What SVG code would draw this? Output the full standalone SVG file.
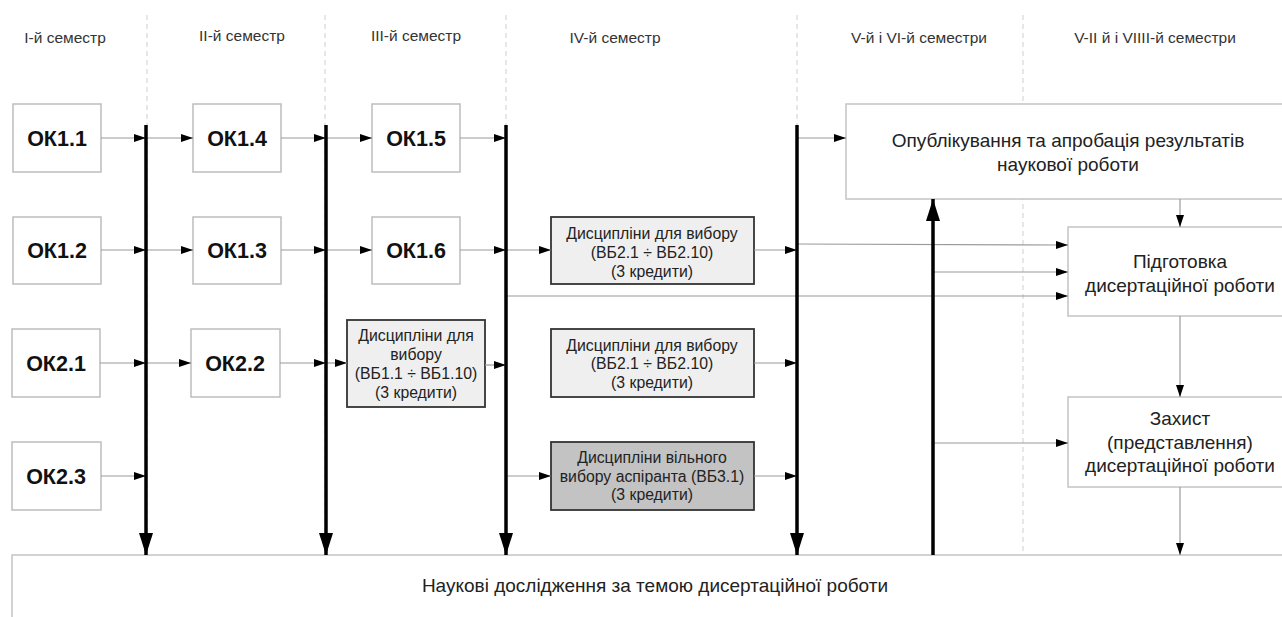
<svg xmlns="http://www.w3.org/2000/svg" width="1282" height="617" viewBox="0 0 1282 617">
  <style>
    .sem { font-family: "Liberation Sans", Arial, sans-serif; font-size: 15.5px; fill: #333; text-anchor: middle; }
    .ok rect { fill: #fff; stroke: #bdbdbd; stroke-width: 1.5; }
    .ok text { font-family: "Liberation Sans", Arial, sans-serif; font-size: 21.5px; font-weight: bold; fill: #111; text-anchor: middle; }
    .choice rect { fill: #efefef; stroke: #333; stroke-width: 1.8; }
    .free rect { fill: #c3c3c3; stroke: #333; stroke-width: 1.8; }
    .choice text, .free text { font-family: "Liberation Sans", Arial, sans-serif; font-size: 15.8px; fill: #222; text-anchor: middle; }
    .big rect { fill: #fff; stroke: #c4c4c4; stroke-width: 1.5; }
    .big text { font-family: "Liberation Sans", Arial, sans-serif; font-size: 19px; fill: #222; text-anchor: middle; }
    .sep { stroke: #cfcfcf; stroke-width: 1; stroke-dasharray: 5 4; fill: none; }
    .thin { stroke: #9a9a9a; stroke-width: 1.2; fill: none; marker-end: url(#arr); }
    .thick { stroke: #000; stroke-width: 3.5; fill: none; marker-end: url(#bigarr); }
  </style>
  <defs>
    <marker id="arr" markerUnits="userSpaceOnUse" markerWidth="12" markerHeight="8" refX="12" refY="4" orient="auto">
      <path d="M0,0 L12,4 L0,8 z" fill="#000"/>
    </marker>
    <marker id="bigarr" markerUnits="userSpaceOnUse" markerWidth="22" markerHeight="14" refX="22" refY="7" orient="auto">
      <path d="M0,0 L22,7 L0,14 z" fill="#000"/>
    </marker>
  </defs>

  <rect width="1282" height="617" fill="#fff"/>

  <!-- semester column separators -->
  <g id="separators">
    <line class="sep" x1="147" y1="15" x2="147" y2="555"/>
    <line class="sep" x1="325" y1="15" x2="325" y2="555"/>
    <line class="sep" x1="506" y1="15" x2="506" y2="555"/>
    <line class="sep" x1="797" y1="15" x2="797" y2="555"/>
    <line class="sep" x1="1023" y1="15" x2="1023" y2="555"/>
  </g>

  <!-- semester headings -->
  <g id="headings">
    <text class="sem" x="65" y="43">I-й семестр</text>
    <text class="sem" x="242" y="41">II-й семестр</text>
    <text class="sem" x="416" y="41">III-й семестр</text>
    <text class="sem" x="615" y="43">IV-й семестр</text>
    <text class="sem" x="919" y="43">V-й і VI-й семестри</text>
    <text class="sem" x="1155" y="43">V-II й і VIIII-й семестри</text>
  </g>

  <!-- research block along the bottom -->
  <g id="research" class="big">
    <rect x="12" y="555" width="1290" height="80"/>
    <text x="655" y="592">Наукові дослідження за темою дисертаційної роботи</text>
  </g>

  <!-- compulsory components -->
  <g id="ok11" class="ok"><rect x="13" y="104" width="88" height="68"/><text x="57" y="146">ОК1.1</text></g>
  <g id="ok14" class="ok"><rect x="193" y="104" width="88" height="68"/><text x="237" y="146">ОК1.4</text></g>
  <g id="ok15" class="ok"><rect x="372" y="104" width="88" height="68"/><text x="416" y="146">ОК1.5</text></g>
  <g id="ok12" class="ok"><rect x="13" y="217" width="88" height="67"/><text x="57" y="258">ОК1.2</text></g>
  <g id="ok13" class="ok"><rect x="193" y="217" width="88" height="67"/><text x="237" y="258">ОК1.3</text></g>
  <g id="ok16" class="ok"><rect x="372" y="217" width="88" height="67"/><text x="416" y="258">ОК1.6</text></g>
  <g id="ok21" class="ok"><rect x="12" y="329" width="88" height="68"/><text x="56" y="371">ОК2.1</text></g>
  <g id="ok22" class="ok"><rect x="191" y="329" width="89" height="68"/><text x="235" y="371">ОК2.2</text></g>
  <g id="ok23" class="ok"><rect x="12" y="442" width="89" height="68"/><text x="56" y="484">ОК2.3</text></g>

  <!-- elective blocks -->
  <g id="vb1" class="choice">
    <rect x="347" y="320" width="138" height="87"/>
    <text x="416" y="341">Дисципліни для</text>
    <text x="416" y="360">вибору</text>
    <text x="416" y="379">(ВБ1.1 ÷ ВБ1.10)</text>
    <text x="416" y="398">(3 кредити)</text>
  </g>
  <g id="vb2a" class="choice">
    <rect x="551" y="217" width="203" height="67"/>
    <text x="652" y="239">Дисципліни для вибору</text>
    <text x="652" y="258">(ВБ2.1 ÷ ВБ2.10)</text>
    <text x="652" y="277">(3 кредити)</text>
  </g>
  <g id="vb2b" class="choice">
    <rect x="551" y="329" width="203" height="68"/>
    <text x="652" y="351">Дисципліни для вибору</text>
    <text x="652" y="369">(ВБ2.1 ÷ ВБ2.10)</text>
    <text x="652" y="388">(3 кредити)</text>
  </g>
  <g id="vb3" class="free">
    <rect x="551" y="442" width="203" height="68"/>
    <text x="652" y="463">Дисципліни вільного</text>
    <text x="652" y="482">вибору аспіранта (ВБ3.1)</text>
    <text x="652" y="500">(3 кредити)</text>
  </g>

  <!-- later-stage blocks -->
  <g id="publication" class="big">
    <rect x="846" y="104" width="460" height="95"/>
    <text x="1068" y="147">Опублікування та апробація результатів</text>
    <text x="1068" y="171">наукової роботи</text>
  </g>
  <g id="preparation" class="big">
    <rect x="1068" y="227" width="240" height="89"/>
    <text x="1180" y="268">Підготовка</text>
    <text x="1180" y="292">дисертаційної роботи</text>
  </g>
  <g id="defence" class="big">
    <rect x="1068" y="397" width="240" height="90"/>
    <text x="1180" y="425">Захист</text>
    <text x="1180" y="449">(представлення)</text>
    <text x="1180" y="472">дисертаційної роботи</text>
  </g>

  <!-- connectors -->
  <g id="connectors">
    <!-- row 1 -->
    <line class="thin" x1="101" y1="138" x2="146" y2="138"/>
    <line class="thin" x1="146" y1="138" x2="193" y2="138"/>
    <line class="thin" x1="281" y1="138" x2="326" y2="138"/>
    <line class="thin" x1="326" y1="138" x2="372" y2="138"/>
    <line class="thin" x1="460" y1="138" x2="506" y2="138"/>
    <line class="thin" x1="797" y1="138" x2="846" y2="138"/>
    <!-- row 2 -->
    <line class="thin" x1="101" y1="250" x2="146" y2="250"/>
    <line class="thin" x1="146" y1="250" x2="193" y2="250"/>
    <line class="thin" x1="281" y1="250" x2="326" y2="250"/>
    <line class="thin" x1="326" y1="250" x2="372" y2="250"/>
    <line class="thin" x1="460" y1="250" x2="506" y2="250"/>
    <line class="thin" x1="506" y1="250" x2="551" y2="250"/>
    <line class="thin" x1="754" y1="250" x2="797" y2="250"/>
    <!-- row 3 -->
    <line class="thin" x1="100" y1="363" x2="146" y2="363"/>
    <line class="thin" x1="146" y1="363" x2="191" y2="363"/>
    <line class="thin" x1="280" y1="363" x2="326" y2="363"/>
    <line class="thin" x1="326" y1="363" x2="347" y2="363"/>
    <line class="thin" x1="485" y1="365" x2="506" y2="365"/>
    <line class="thin" x1="754" y1="363" x2="797" y2="363"/>
    <!-- row 4 -->
    <line class="thin" x1="101" y1="476" x2="146" y2="476"/>
    <line class="thin" x1="506" y1="476" x2="551" y2="476"/>
    <line class="thin" x1="754" y1="476" x2="797" y2="476"/>
    <!-- feeds into dissertation preparation -->
    <line class="thin" x1="797" y1="244" x2="1068" y2="245"/>
    <line class="thin" x1="933" y1="272" x2="1068" y2="272"/>
    <line class="thin" x1="506" y1="296" x2="1068" y2="296"/>
    <line class="thin" x1="933" y1="443" x2="1068" y2="443"/>
    <!-- vertical flow on the right -->
    <line class="thin" x1="1180" y1="199" x2="1180" y2="227"/>
    <line class="thin" x1="1180" y1="316" x2="1180" y2="397"/>
    <line class="thin" x1="1180" y1="487" x2="1180" y2="555"/>
    <!-- semester bus lines -->
    <line class="thick" x1="146" y1="125" x2="146" y2="555"/>
    <line class="thick" x1="326" y1="125" x2="326" y2="555"/>
    <line class="thick" x1="506" y1="125" x2="506" y2="555"/>
    <line class="thick" x1="797" y1="125" x2="797" y2="555"/>
    <line class="thick" x1="933" y1="555" x2="933" y2="199"/>
  </g>
</svg>
